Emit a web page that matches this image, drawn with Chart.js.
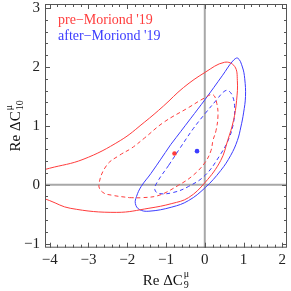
<!DOCTYPE html>
<html><head><meta charset="utf-8">
<script src="https://cdn.jsdelivr.net/npm/chart.js@4"></script>
<style>html,body{margin:0;padding:0;background:#fff;overflow:hidden}</style>
</head><body><canvas id="c" width="291" height="291"></canvas>
<script>
// ---- data ----
const xTicks = [-4, -3, -2, -1, 0, 1, 2];
const yTicks = [-1, 0, 1, 2, 3];
const seriesNames = ["pre\u2212Moriond '19", "after\u2212Moriond '19"];

// pre-Moriond '19, outer contour (solid)
const preOuterX = [-4.4, -4.0, -3.14, -2.18, -1.56, -1.06, -0.55, 0.01, 0.51, 0.77, 0.84, 0.82, 0.74, 0.59, 0.41, 0.01, -0.42, -0.85, -1.44, -2.27, -3.47, -4.0, -4.4];
const preOuterY = [0.21, 0.28, 0.43, 0.75, 1.06, 1.34, 1.65, 1.91, 2.08, 2.01, 1.77, 1.43, 1.09, 0.75, 0.41, 0.04, -0.22, -0.32, -0.40, -0.47, -0.40, -0.27, -0.17];
// pre-Moriond '19, inner contour (dashed)
const preInnerX = [-1.94, -1.61, -1.18, -0.68, -0.30, 0.01, 0.16, 0.21, 0.29, 0.34, 0.31, 0.21, 0.01, -0.42, -1.06, -1.56, -1.89, -2.20, -2.53, -2.73, -2.63, -2.38, -1.94];
const preInnerY = [-0.22, -0.22, -0.18, -0.01, 0.16, 0.38, 0.58, 0.75, 0.92, 1.17, 1.38, 1.53, 1.48, 1.31, 1.06, 0.79, 0.62, 0.50, 0.33, 0.00, -0.13, -0.18, -0.22];
// after-Moriond '19, outer contour (solid)
const afterOuterX = [-0.88, -0.37, 0.01, 0.46, 0.72, 0.85, 0.97, 1.03, 1.05, 1.00, 0.93, 0.84, 0.67, 0.41, 0.01, -0.42, -0.85, -1.44, -1.69, -1.79, -1.76, -1.64, -1.39, -0.88];
const afterOuterY = [0.68, 1.12, 1.45, 1.86, 2.10, 2.15, 2.00, 1.80, 1.50, 1.22, 0.98, 0.75, 0.50, 0.24, -0.05, -0.27, -0.38, -0.45, -0.42, -0.32, -0.20, -0.03, 0.19, 0.68];
// after-Moriond '19, inner contour (dashed)
const afterInnerX = [-0.93, -0.63, -0.30, 0.01, 0.29, 0.49, 0.60, 0.72, 0.77, 0.74, 0.62, 0.39, 0.01, -0.42, -0.80, -1.18, -1.29, -1.23, -0.93];
const afterInnerY = [0.33, 0.63, 0.95, 1.21, 1.43, 1.58, 1.60, 1.50, 1.29, 1.05, 0.78, 0.50, 0.16, -0.03, -0.13, -0.15, -0.08, 0.04, 0.33];
// best-fit points
const preBestX = [-0.78], preBestY = [0.53];
const afterBestX = [-0.20], afterBestY = [0.57];

// ---- styling ----
const RED = 'rgb(255,60,60)';
const BLUE = 'rgb(60,60,255)';
const SERIF = "'Liberation Serif', 'DejaVu Serif', serif";
const pts = (xs, ys) => xs.map((x, i) => ({x, y: ys[i]}));
const fmt = v => (v < 0 ? '\u2212' + Math.abs(v) : String(v));

function curve(xs, ys, color, dash) {
  return {data: pts(xs, ys), showLine: true, borderColor: color, borderWidth: 1,
    borderDash: dash ? [4, 3] : [], pointRadius: 0, tension: 0.4, fill: false, clip: 0};
}

const framePlugin = {
  id: 'frame',
  beforeDatasetsDraw(chart) {
    const {ctx, chartArea: a, scales: {x, y}} = chart;
    ctx.save();
    ctx.strokeStyle = '#a8a8a8'; ctx.lineWidth = 2;
    const x0 = x.getPixelForValue(0), y0 = y.getPixelForValue(0);
    ctx.beginPath();
    ctx.moveTo(x0, a.top); ctx.lineTo(x0, a.bottom);
    ctx.moveTo(a.left, y0); ctx.lineTo(a.right, y0);
    ctx.stroke();
    ctx.restore();
  },
  afterDatasetsDraw(chart) {
    const {ctx, chartArea: a, scales: {x, y}} = chart;
    ctx.save();
    ctx.strokeStyle = '#555'; ctx.lineWidth = 1;
    ctx.strokeRect(a.left + 0.5, a.top + 0.5, a.right - a.left - 1, a.bottom - a.top - 1);
    ctx.beginPath();
    for (let k = Math.round(x.min * 5); k <= Math.round(x.max * 5); k++) {
      const v = k / 5; if (v < x.min || v > x.max) continue;
      const px = Math.round(x.getPixelForValue(v)) + 0.5;
      const L = (k % 5 === 0) ? 5 : 3;
      ctx.moveTo(px, a.bottom); ctx.lineTo(px, a.bottom - L);
      ctx.moveTo(px, a.top); ctx.lineTo(px, a.top + L);
    }
    for (let k = Math.round(y.min * 5); k <= Math.round(y.max * 5); k++) {
      const v = k / 5; if (v < y.min || v > y.max) continue;
      const py = Math.round(y.getPixelForValue(v)) + 0.5;
      const L = (k % 5 === 0) ? 5 : 3;
      ctx.moveTo(a.left, py); ctx.lineTo(a.left + L, py);
      ctx.moveTo(a.right, py); ctx.lineTo(a.right - L, py);
    }
    ctx.stroke();

    // legend texts
    ctx.font = '14px ' + SERIF;
    ctx.textAlign = 'left'; ctx.textBaseline = 'alphabetic';
    ctx.fillStyle = RED; ctx.fillText(seriesNames[0], 58, 24);
    ctx.fillStyle = BLUE; ctx.fillText(seriesNames[1], 58, 40);

    // axis titles
    ctx.fillStyle = '#111';
    const title = (cx, base, sub) => {
      ctx.font = '15px ' + SERIF;
      const main = 'Re \u0394C';
      const wm = ctx.measureText(main).width;
      ctx.font = '10px ' + SERIF;
      const ws = Math.max(ctx.measureText('\u03bc').width, ctx.measureText(sub).width);
      const x0 = cx - (wm + ws + 1) / 2;
      ctx.font = '15px ' + SERIF; ctx.textAlign = 'left';
      ctx.fillText(main, x0, base);
      ctx.font = '10px ' + SERIF;
      ctx.fillText('\u03bc', x0 + wm + 1, base - 8);
      ctx.fillText(sub, x0 + wm + 1, base + 3);
    };
    title((a.left + a.right) / 2, 285, '9');
    ctx.save();
    ctx.translate(20, (a.top + a.bottom) / 2);
    ctx.rotate(-Math.PI / 2);
    title(0, 0, '10');
    ctx.restore();
    ctx.restore();
  }
};

new Chart(document.getElementById('c'), {
  type: 'scatter',
  data: {datasets: [
    curve(preOuterX, preOuterY, RED, false),
    curve(preInnerX, preInnerY, RED, true),
    curve(afterOuterX, afterOuterY, BLUE, false),
    curve(afterInnerX, afterInnerY, BLUE, true),
    {data: pts(preBestX, preBestY), pointRadius: 2.3, pointBackgroundColor: RED, pointBorderWidth: 0, showLine: false},
    {data: pts(afterBestX, afterBestY), pointRadius: 2.3, pointBackgroundColor: BLUE, pointBorderWidth: 0, showLine: false}
  ]},
  options: {
    responsive: false, animation: false, devicePixelRatio: 1,
    layout: {padding: {top: 2.5, right: 1.5, left: 0, bottom: 0}},
    plugins: {legend: {display: false}, tooltip: {enabled: false}},
    scales: {
      x: {type: 'linear', min: -4.12, max: 2.12,
        afterFit(s) { s.height = 43.3; s.paddingLeft = 0; s.paddingRight = 0; },
        afterBuildTicks(s) { s.ticks = xTicks.map(v => ({value: v})); },
        grid: {display: false, drawTicks: false}, border: {display: false},
        ticks: {font: {family: SERIF, size: 15}, color: '#222', padding: 3, maxRotation: 0, autoSkip: false, callback: v => fmt(v)}},
      y: {type: 'linear', min: -1.07, max: 3.07,
        afterFit(s) { s.width = 45; s.paddingTop = 0; s.paddingBottom = 0; },
        afterBuildTicks(s) { s.ticks = yTicks.map(v => ({value: v})); },
        grid: {display: false, drawTicks: false}, border: {display: false},
        ticks: {font: {family: SERIF, size: 15}, color: '#222', padding: 5, autoSkip: false, callback: v => fmt(v)}}
    }
  },
  plugins: [framePlugin]
});
</script></body></html>
